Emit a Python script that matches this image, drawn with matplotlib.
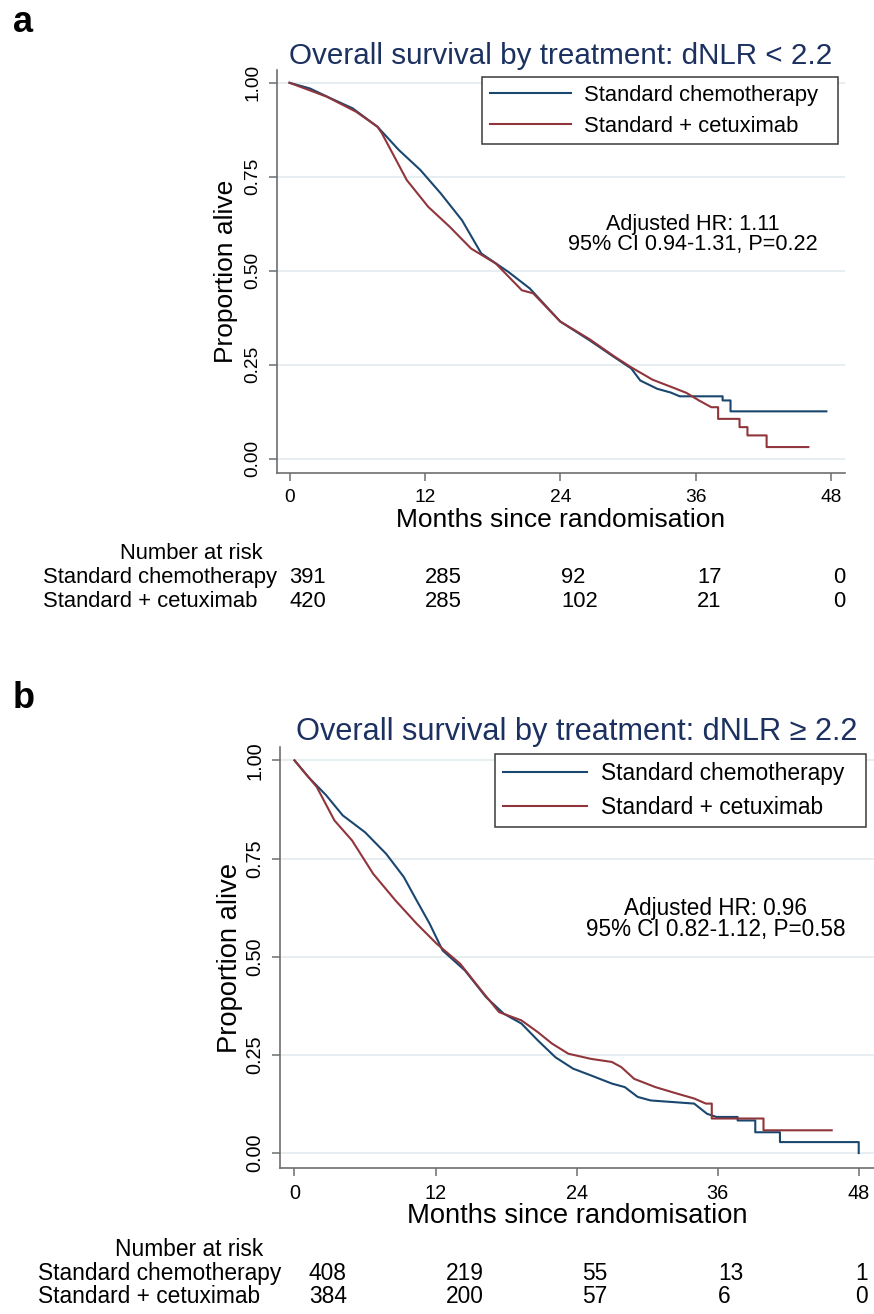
import matplotlib
matplotlib.use('Agg')
import matplotlib.pyplot as plt
from matplotlib import transforms

plt.rcParams['font.family'] = ['Liberation Sans', 'DejaVu Sans']

# ---- data ----
month_ticks = [0, 12, 24, 36, 48]
surv_ticks = [0.0, 0.25, 0.5, 0.75, 1.0]
surv_labels = ['0.00', '0.25', '0.50', '0.75', '1.00']
arms = ['Standard chemotherapy', 'Standard + cetuximab']

# panel a: dNLR < 2.2
a_chemo_t = [0, 1.8, 3.7, 5.6, 7.8, 9.7, 11.6, 13.4, 15.3, 17.0, 19.4, 21.3, 24.0, 26.6,
             28.8, 30.3, 31.1, 32.6, 33.8, 34.6, 38.4, 38.4, 39.1, 39.1, 47.6]
a_chemo_s = [1.0, 0.985, 0.958, 0.932, 0.883, 0.821, 0.768, 0.706, 0.634, 0.546, 0.497, 0.453,
             0.365, 0.315, 0.270, 0.240, 0.208, 0.186, 0.176, 0.166, 0.166, 0.155, 0.155,
             0.126, 0.126]
a_cetux_t = [0, 3.3, 5.9, 7.8, 8.2, 10.4, 12.3, 14.2, 16.1, 18.3, 20.6, 21.6, 24.0, 26.6,
             28.8, 30.3, 32.2, 34.1, 35.2, 36.3, 37.4, 38.0, 38.0, 39.9, 39.9, 40.6, 40.6,
             42.3, 42.3, 46.0]
a_cetux_s = [1.0, 0.963, 0.923, 0.883, 0.865, 0.741, 0.670, 0.617, 0.559, 0.519, 0.448, 0.440,
             0.365, 0.318, 0.272, 0.243, 0.210, 0.188, 0.175, 0.155, 0.137, 0.137, 0.106,
             0.106, 0.084, 0.084, 0.062, 0.062, 0.031, 0.031]
a_risk_chemo = [391, 285, 92, 17, 0]
a_risk_cetux = [420, 285, 102, 21, 0]
a_title = 'Overall survival by treatment: dNLR < 2.2'
a_hr = ['Adjusted HR: 1.11', '95% CI 0.94-1.31, P=0.22']

# panel b: dNLR >= 2.2
b_chemo_t = [0, 1.2, 2.7, 4.1, 6.0, 7.8, 9.3, 10.4, 11.5, 12.6, 14.5, 16.3, 17.8, 19.3, 20.7,
             22.2, 23.7, 25.2, 27.0, 28.1, 29.2, 30.3, 34.0, 35.1, 35.9, 37.7, 37.7, 39.2,
             39.2, 41.3, 41.3, 48.0, 48.0]
b_chemo_s = [1.0, 0.957, 0.911, 0.860, 0.817, 0.762, 0.703, 0.643, 0.584, 0.516, 0.465, 0.397,
             0.355, 0.330, 0.287, 0.244, 0.215, 0.198, 0.177, 0.168, 0.143, 0.134, 0.126,
             0.100, 0.092, 0.092, 0.083, 0.083, 0.053, 0.053, 0.028, 0.028, 0.0]
b_cetux_t = [0, 1.9, 3.4, 4.9, 6.7, 8.6, 10.4, 12.1, 14.1, 15.9, 17.4, 19.3, 20.7, 21.9, 23.3,
             25.2, 27.0, 27.8, 28.9, 30.7, 32.6, 34.0, 35.0, 35.5, 35.5, 39.9, 39.9, 45.7]
b_cetux_s = [1.0, 0.932, 0.847, 0.796, 0.711, 0.643, 0.584, 0.533, 0.482, 0.414, 0.359, 0.338,
             0.308, 0.279, 0.253, 0.240, 0.232, 0.219, 0.189, 0.168, 0.151, 0.139, 0.126,
             0.126, 0.088, 0.088, 0.058, 0.058]
b_risk_chemo = [408, 219, 55, 13, 1]
b_risk_cetux = [384, 200, 57, 6, 0]
b_title = 'Overall survival by treatment: dNLR \u2265 2.2'
b_hr = ['Adjusted HR: 0.96', '95% CI 0.82-1.12, P=0.58']

W, H = 874, 1314
NAVY = '#1a476f'
MAROON = '#90353b'
AXCOL = '#6e6e6e'
GRID = '#e4edf0'


def px_rect(left, top, right, bottom):
    return [left / W, 1 - bottom / H, (right - left) / W, (bottom - top) / H]


def panel(fig, box, xlim, title, t1, s1, t2, s2, hr, risk1, risk2,
          rbox, rxlim, name_x, k, title_pad, ylab_x, xlab_y):
    ax = fig.add_axes(px_rect(*box))
    for y in surv_ticks:
        ax.axhline(y, color=GRID, lw=1.3, zorder=0)
    ax.plot(t1, s1, color=NAVY, lw=1.5, label=arms[0])
    ax.plot(t2, s2, color=MAROON, lw=1.5, label=arms[1])
    ax.set_xlim(*xlim)
    ax.set_ylim(-0.038, 1.034)
    ax.set_xticks(month_ticks)
    ax.set_yticks(surv_ticks)
    ax.set_yticklabels(surv_labels, rotation=90, va='center')
    for side in ['top', 'right']:
        ax.spines[side].set_visible(False)
    for side in ['left', 'bottom']:
        ax.spines[side].set_color(AXCOL)
        ax.spines[side].set_linewidth(1.2)
    ax.tick_params(length=5.5, width=1.1, color=AXCOL, labelsize=13.8 * k, pad=6)
    ax.set_title(title, fontsize=21.3 * k, color='#1c3160', pad=title_pad)
    ax.set_ylabel('Proportion alive', fontsize=19 * k)
    ax.yaxis.set_label_coords(ylab_x, 0.5)
    ax.set_xlabel('Months since randomisation', fontsize=19 * k)
    ax.xaxis.set_label_coords(0.5, xlab_y)
    leg = ax.legend(loc='upper left', bbox_to_anchor=(17.05, 0.83, 31.6, 0.185),
                    bbox_transform=ax.transData, mode='expand', borderaxespad=0,
                    fontsize=15.8 * k, handlelength=3.7, handletextpad=0.6,
                    borderpad=0.35, labelspacing=0.45, fancybox=False, framealpha=1)
    leg.get_frame().set_edgecolor('#3a3a3a')
    leg.get_frame().set_linewidth(1.1)
    ax.text(35.8, 0.624, hr[0], ha='center', va='center', fontsize=15.6 * k)
    ax.text(35.8, 0.569, hr[1], ha='center', va='center', fontsize=15.6 * k)

    # number-at-risk table
    rax = fig.add_axes(px_rect(*rbox))
    rax.set_xlim(*rxlim)
    rax.set_ylim(2.5, -0.5)
    rax.axis('off')
    tr = transforms.blended_transform_factory(fig.transFigure, rax.transData)
    fig.text(263 / W, 0, 'Number at risk', transform=tr, ha='right', va='center',
             fontsize=15.8 * k)
    for row, (name, counts) in enumerate(zip(arms, [risk1, risk2]), start=1):
        fig.text(name_x / W, row, name, transform=tr, ha='left', va='center',
                 fontsize=15.8 * k)
        for m, n in zip(month_ticks, counts):
            rax.text(m, row, str(n), ha='left', va='center', fontsize=15.8 * k)
    return ax


fig = plt.figure(figsize=(W / 100, H / 100), dpi=100)

panel(fig, (277, 70, 845, 473), (-1.11, 49.25), a_title,
      a_chemo_t, a_chemo_s, a_cetux_t, a_cetux_s, a_hr, a_risk_chemo, a_risk_cetux,
      (277, 541, 845, 614), (-1.06, 49.03), 43, 1.0, 4, -0.069, -0.087)
panel(fig, (280, 747, 874, 1168), (-1.23, 49.3), b_title,
      b_chemo_t, b_chemo_s, b_cetux_t, b_cetux_s, b_hr, b_risk_chemo, b_risk_cetux,
      (280, 1238, 874, 1308.5), (-2.55, 49.69), 38, 1.04, 5, -0.062, -0.083)

fig.text(13 / W, 1 - 32 / H, 'a', fontsize=26, fontweight='bold', va='baseline')
fig.text(13 / W, 1 - 708 / H, 'b', fontsize=26, fontweight='bold', va='baseline')

fig.savefig('out.png', dpi=100)
